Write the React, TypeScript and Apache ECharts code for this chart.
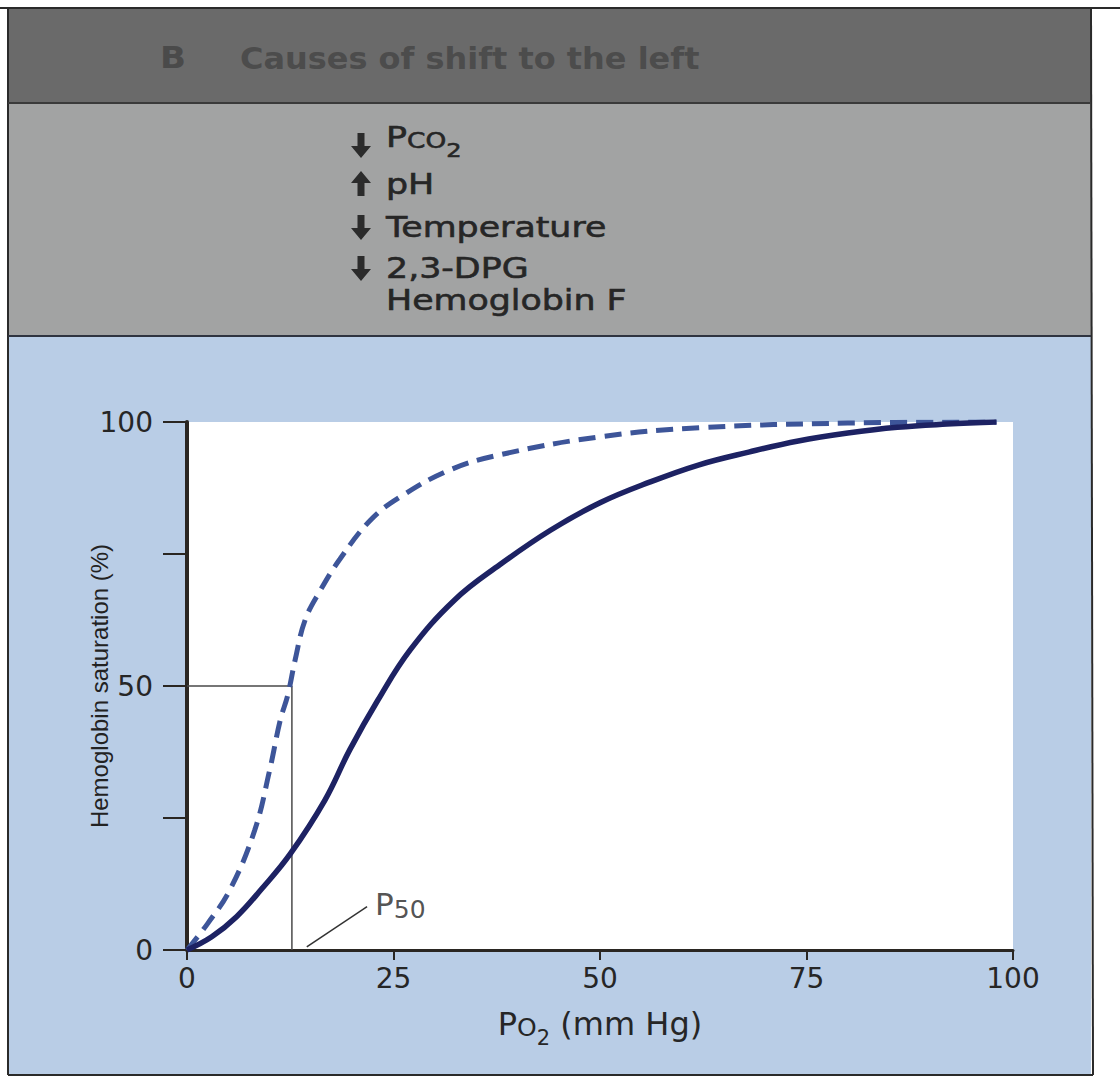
import React, { useEffect, useRef } from "react";
import * as echarts from "echarts";

// Normal curve (solid)
const solidPO2 = [0, 3, 6, 9, 12.5, 16.7, 19.7, 23.1, 27, 32.4, 37.9, 44, 50, 56, 62, 68, 74, 80, 86, 92, 98];
const solidSat = [0, 2.5, 6.3, 11.5, 18.2, 28.4, 37.9, 47.3, 56.8, 66.3, 73, 79.5, 84.7, 88.6, 91.9, 94.3, 96.4, 97.9, 99, 99.6, 100];

// Left-shifted curve (dashed)
const dashPO2 = [0, 2.5, 5.2, 8.2, 10, 11.3, 12.2, 13.1, 14.3, 16.1, 18.5, 22.2, 25.8, 31.8, 37.9, 50, 62, 80, 98];
const dashSat = [0, 5, 11.4, 22.7, 34, 43.6, 48.3, 55, 62.5, 68, 74, 81.4, 85.8, 90.9, 93.8, 97.2, 98.9, 99.8, 100];

// P50 guide and leader
const guidePO2 = [0, 12.7, 12.7];
const guideSat = [50, 50, 0];
const leaderPO2 = [14.5, 21.8];
const leaderSat = [0.6, 8.2];

const yLabelled = [0, 50, 100];

const headerLetter = "B";
const headerTitle = "Causes of shift to the left";
const causeArrows = ["down", "up", "down", "down", ""];
const causeTexts = ["{a|P}{b|CO}{c|2}", "pH", "Temperature", "2,3-DPG", "Hemoglobin F"];

function arrowPoints(cx: number, cy: number, dir: string): number[][] {
  const s = dir === "down" ? 1 : -1;
  return [
    [cx - 3.5, cy - 12 * s],
    [cx + 3.5, cy - 12 * s],
    [cx + 3.5, cy + 1 * s],
    [cx + 10, cy + 1 * s],
    [cx, cy + 13 * s],
    [cx - 10, cy + 1 * s],
    [cx - 3.5, cy + 1 * s],
  ];
}

export default function App() {
  const ref = useRef<HTMLDivElement>(null);
  useEffect(() => {
    if (!ref.current) return;
    const chart = echarts.init(ref.current, undefined, { renderer: "svg" });
    const listFont = "'DejaVu Sans', Verdana, sans-serif";
    const rows = [145, 184, 227, 268, 300];
    const txt = "#262626";
    const graphic: any[] = [
      { type: "rect", z: -10, shape: { x: 8, y: 8, width: 1083, height: 95 }, style: { fill: "#6a6a6a" } },
      { type: "rect", z: -10, shape: { x: 8, y: 103, width: 1083, height: 233 }, style: { fill: "#a2a3a3" } },
      { type: "rect", z: -10, shape: { x: 8, y: 336, width: 1083, height: 738 }, style: { fill: "#b9cde6" } },
      { type: "line", z: -5, shape: { x1: 0, y1: 8, x2: 1120, y2: 8 }, style: { stroke: "#2a2a2a", lineWidth: 2 } },
      { type: "line", z: -5, shape: { x1: 8, y1: 8, x2: 8, y2: 1075 }, style: { stroke: "#2a2a2a", lineWidth: 2 } },
      { type: "line", z: -5, shape: { x1: 1091, y1: 8, x2: 1093, y2: 1075 }, style: { stroke: "#2a2a2a", lineWidth: 2 } },
      { type: "line", z: -5, shape: { x1: 8, y1: 1075, x2: 1093, y2: 1075 }, style: { stroke: "#2a2a2a", lineWidth: 2 } },
      { type: "line", z: -5, shape: { x1: 8, y1: 103, x2: 1091, y2: 103 }, style: { stroke: "#3a3a3a", lineWidth: 2 } },
      { type: "line", z: -5, shape: { x1: 8, y1: 336, x2: 1091, y2: 336 }, style: { stroke: "#2f3440", lineWidth: 2 } },
      {
        type: "text", z: 10, x: 160, y: 58, scaleX: 1.1,
        style: { text: headerLetter, font: "bold 31px 'DejaVu Sans', sans-serif", fill: "#4a4a4a", verticalAlign: "middle" },
      },
      {
        type: "text", z: 10, x: 240, y: 58, scaleX: 1.065,
        style: { text: headerTitle, font: "bold 30px 'DejaVu Sans', sans-serif", fill: "#4c4c4c", verticalAlign: "middle" },
      },
    ];
    causeTexts.forEach((t, i) => {
      if (causeArrows[i]) {
        graphic.push({
          type: "polygon", z: 10,
          shape: { points: arrowPoints(361, rows[i], causeArrows[i]) },
          style: { fill: "#2b2b2b" },
        });
      }
      graphic.push({
        type: "text", z: 10, x: 386, y: rows[i], scaleX: 1.2,
        style: {
          text: t,
          fill: txt,
          font: `29px ${listFont}`,
          verticalAlign: "middle",
          stroke: txt,
          lineWidth: 0.6,
          rich: {
            a: { fontSize: 29, fontFamily: "DejaVu Sans", color: txt, verticalAlign: "bottom", lineHeight: 29, padding: [0, 0, 8, 0] },
            b: { fontSize: 22, fontFamily: "DejaVu Sans", color: txt, verticalAlign: "bottom", lineHeight: 22, padding: [0, 0, 8, 0] },
            c: { fontSize: 20, fontFamily: "DejaVu Sans", color: txt, verticalAlign: "bottom", lineHeight: 20 },
          },
        },
      });
    });

    const axisColor = "#2a2622";
    const labelFont = "'DejaVu Sans', Verdana, sans-serif";
    chart.setOption({
      animation: false,
      backgroundColor: "#ffffff",
      graphic,
      grid: {
        left: 187, right: 107, top: 422, bottom: 129,
        show: true, backgroundColor: "#ffffff", borderWidth: 0, z: 0,
      },
      xAxis: {
        type: "value", min: 0, max: 100, interval: 25,
        axisLine: { show: true, lineStyle: { color: axisColor, width: 3 } },
        axisTick: { show: true, inside: false, length: 10, lineStyle: { color: axisColor, width: 2 } },
        splitLine: { show: false },
        axisLabel: { margin: 14, fontSize: 28, fontFamily: labelFont, color: txt },
        name: "{a|P}{b|O}{c|2}{a| (mm Hg)}",
        nameLocation: "middle",
        nameGap: 66,
        nameMoveOverlap: false,
        nameTextStyle: {
          rich: {
            a: { fontSize: 32, fontFamily: "DejaVu Sans", color: txt, verticalAlign: "bottom", lineHeight: 32, padding: [0, 0, 8, 0] },
            b: { fontSize: 25, fontFamily: "DejaVu Sans", color: txt, verticalAlign: "bottom", lineHeight: 25, padding: [0, 0, 8, 0] },
            c: { fontSize: 21, fontFamily: "DejaVu Sans", color: txt, verticalAlign: "bottom", lineHeight: 21 },
          },
        },
      },
      yAxis: {
        type: "value", min: 0, max: 100, interval: 25,
        axisLine: { show: true, lineStyle: { color: axisColor, width: 4 } },
        axisTick: { show: true, inside: false, length: 24, lineStyle: { color: axisColor, width: 2 } },
        splitLine: { show: false },
        axisLabel: {
          margin: 34, fontSize: 28, fontFamily: labelFont, color: txt,
          formatter: (v: number) => (yLabelled.indexOf(v) >= 0 ? String(v) : ""),
        },
        name: "Hemoglobin saturation (%)",
        nameLocation: "middle",
        nameRotate: 90,
        nameGap: 76,
        nameMoveOverlap: false,
        nameTextStyle: { fontSize: 24, fontFamily: "'Liberation Sans Narrow', 'Arial Narrow', 'Liberation Sans', sans-serif", color: "#222" },
      },
      series: [
        {
          type: "line", name: "guide", data: guidePO2.map((p, i) => [p, guideSat[i]]),
          showSymbol: false, lineStyle: { color: "#4a4a4a", width: 1.5 }, z: 3, silent: true,
        },
        {
          type: "line", name: "leader", data: leaderPO2.map((p, i) => [p, leaderSat[i]]),
          showSymbol: false, lineStyle: { color: "#333", width: 1.5 }, z: 3, silent: true,
        },
        {
          type: "scatter", name: "P50 label", data: [[leaderPO2[1], leaderSat[1]]],
          symbolSize: 0, z: 5,
          label: {
            show: true, position: "right", distance: 8,
            formatter: "{p|P}{s|50}",
            rich: {
              p: { fontSize: 31, fontFamily: "DejaVu Sans", color: txt, verticalAlign: "bottom", lineHeight: 31, padding: [0, 0, 3, 0] },
              s: { fontSize: 25, fontFamily: "DejaVu Sans", color: txt, verticalAlign: "bottom", lineHeight: 25 },
            },
          },
        },
        {
          type: "line", name: "Left shift", data: dashPO2.map((p, i) => [p, dashSat[i]]),
          smooth: 0.4, showSymbol: false, z: 4,
          lineStyle: { color: "#3d5599", width: 5, type: [17, 9] },
        },
        {
          type: "line", name: "Normal", data: solidPO2.map((p, i) => [p, solidSat[i]]),
          smooth: 0.4, showSymbol: false, z: 5,
          lineStyle: { color: "#1d2263", width: 5.5 },
        },
      ],
    });
    return () => chart.dispose();
  }, []);
  return <div ref={ref} style={{ position: "absolute", left: 0, top: 0, width: 1120, height: 1079 }} />;
}
